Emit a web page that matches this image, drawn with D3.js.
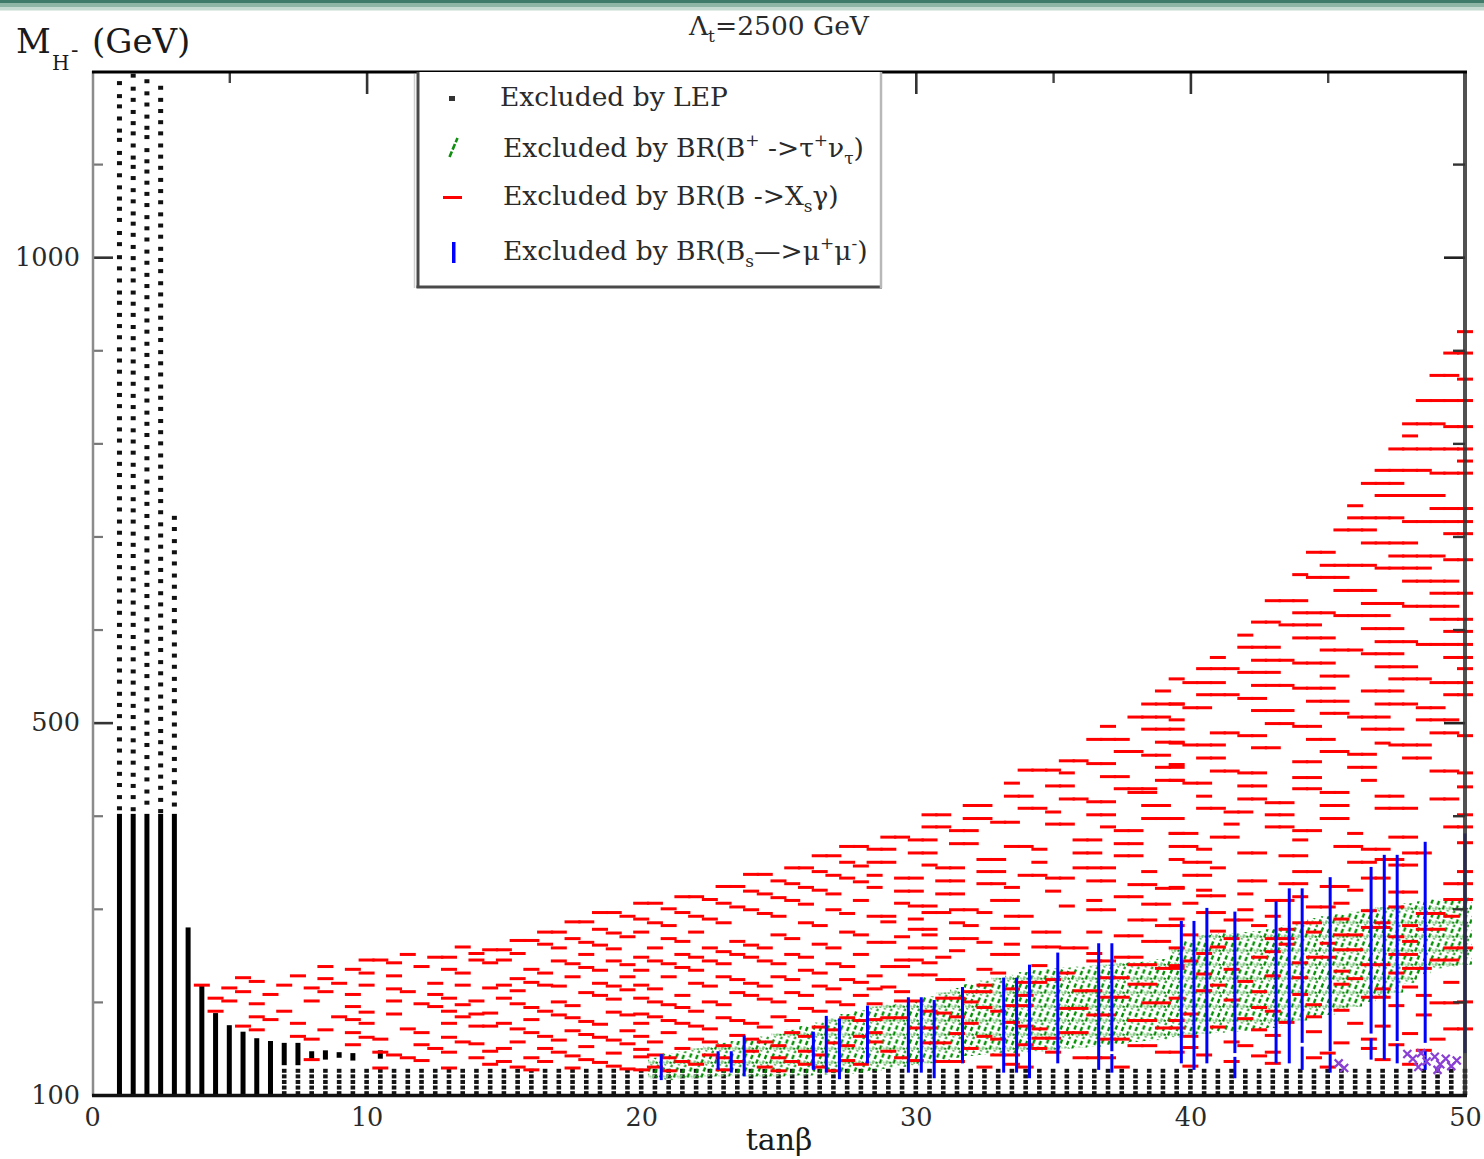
<!DOCTYPE html>
<html>
<head>
<meta charset="utf-8">
<script src="https://cdn.jsdelivr.net/npm/d3@7"></script>
<style>
html,body{margin:0;padding:0;background:#fff;}
svg{display:block;}
</style>
</head>
<body>
<svg id="chart" width="1484" height="1159"></svg>
<script>
// ---------- axes ----------
const tanBetaTicks = [0, 10, 20, 30, 40, 50];
const tanBetaMinor = [5, 15, 25, 35, 45];
const massTicks = [100, 500, 1000];
const massMinor = [200, 300, 400, 600, 700, 800, 900, 1100];

// tan(beta) scan columns
const scanColumns = [1,1.5,2,2.5,3,3.5,4,4.5,5,5.5,6,6.5,7,7.5,8,8.5,9,9.5,10,10.5,11,11.5,12,12.5,13,13.5,14,14.5,15,15.5,16,16.5,17,17.5,18,18.5,19,19.5,20,20.5,21,21.5,22,22.5,23,23.5,24,24.5,25,25.5,26,26.5,27,27.5,28,28.5,29,29.5,30,30.5,31,31.5,32,32.5,33,33.5,34,34.5,35,35.5,36,36.5,37,37.5,38,38.5,39,39.5,40,40.5,41,41.5,42,42.5,43,43.5,44,44.5,45,45.5,46,46.5,47,47.5,48,48.5,49,49.5,50];

// ---------- excluded by LEP ----------
// dense stretches: [tanBeta, M low, M high]
const lepBars = [[1,100,402],[1.5,100,402],[2,100,402],[2.5,100,402],[3,100,402],[3.5,100,280],[4,100,218],[4.5,100,188],[5,100,175],[5.5,100,168],[6,100,161],[6.5,100,158],[7,132,156],[7.5,132,156],[8,139,147],[8.5,138,148],[9,140,146],[9.5,137,145],[10.5,139,148]];
// separate points above the dense stretches
const lepDots1 = [1187,1173,1162,1149,1136,1126,1112,1101,1088,1075,1063,1052,1040,1026,1014,1000,988,975,962,951,938,926,914,901,889,877,864,852,840,827,815,803,790,778,766,753,741,729,716,704,692,679,667,655,642,630,618,605,593,581,568,556,544,531,519,507,494,482,470,457,445,433,420,408];
const lepDots15 = [1195,1181,1169,1156,1144,1133,1120,1107,1097,1085,1072,1060,1047,1036,1024,1011,999,987,975,962,950,938,925,913,901,888,876,864,851,839,827,814,802,790,777,765,753,740,728,716,703,691,679,666,654,642,629,617,605,592,580,568,555,543,531,518,506,494,481,469,457,444,432,420,407];
const lepDots2 = [1189,1176,1164,1151,1139,1129,1115,1103,1092,1080,1068,1056,1043,1031,1019,1006,994,981,969,957,944,932,920,907,895,883,870,858,846,833,821,809,796,784,772,759,747,735,722,710,698,685,673,661,648,636,624,611,599,587,574,562,550,537,525,513,500,488,476,463,451,439,426,414];
const lepDots25 = [1182,1169,1157,1145,1133,1120,1108,1096,1083,1071,1059,1046,1034,1022,1009,997,985,972,960,948,935,923,911,898,886,874,861,849,837,824,812,800,787,775,763,750,738,726,713,701,689,676,664,652,639,627,615,602,590,578,565,553,541,528,516,504,491,479,467,454,442,430,417,405];
const lepDots3 = [720,708,695,683,671,658,646,634,621,609,597,584,572,560,547,535,523,510,498,486,473,461,449,436,424,412];
const lepDotColumns = [[1, lepDots1], [1.5, lepDots15], [2, lepDots2], [2.5, lepDots25], [3, lepDots3]];
// low-mass points present in every column from tanBeta = 7
const lepBandLevels = [102, 108, 114, 120, 126];

// ---------- excluded by BR(B -> Xs gamma) ----------
// per column: [tanBeta, [M ...]]
const redColumns = [
 [4,[218]],[4.5,[204,190]],[5,[215,201]],[5.5,[226,211,174]],[6,[222,198,184,170]],[6.5,[208,181]],
 [7,[218,190]],[7.5,[228,177,163]],[8,[215,201,160,138]],[8.5,[238,225,211,170]],[9,[220,184]],
 [9.5,[235,208,195,181,167,154]],[10,[245,231,218,189,177,162]],[10.5,[245,160,146,129]],
 [11,[242,228,214,201,187,143]],[11.5,[251,211,171,140]],[12,[238,198,167,154,137]],
 [12.5,[248,220,208,195,150]],[13,[248,235,204,190,177,162,146,129]],[13.5,[259,231,218,197,184,157]],
 [14,[252,245,201,187,174,155,140]],
 [14.5,[256,242,215,188,174,147,133]],[15,[256,245,218,204,177,150,136]],
 [15.5,[266,252,225,212,198,171,157,130]],[16,[266,235,221,194,181,167,140,127]],
 [16.5,[275,262,231,218,190,163,150,136]],[17,[275,258,244,217,200,186,159,146]],
 [17.5,[286,268,241,227,196,183,169,142,129]],[18,[286,264,251,237,210,179,165,152,138]],
 [18.5,[296,278,261,234,220,207,176,162,135]],[19,[296,274,257,244,217,203,189,159,145,131]],
 [19.5,[292,270,240,227,213,186,169,155,128]],[20,[306,289,275,248,234,218,204,187,177,163,149,141,127]],
 [20.5,[306,285,258,244,214,200,184,157,143,130]],[21,[300,282,268,241,227,197,180,167,140,126]],
 [21.5,[313,296,265,251,237,207,194,177,150,136]],[22,[313,292,275,248,234,220,190,174,160,133]],
 [22.5,[310,289,258,244,217,200,171,157,143]],[23,[324,306,285,254,241,227,197,183,153,140,127]],
 [23.5,[324,302,265,251,224,210,180,164,136]],[24,[337,319,299,261,248,220,207,177,160,147]],
 [24.5,[337,316,295,258,244,217,203,173,157,130]],[25,[330,312,292,272,241,227,200,184,153,140,126]],
 [25.5,[344,327,309,268,251,224,210,180,167,136]],[26,[344,323,305,285,248,234,207,193,163,147,133]],
 [26.5,[357,340,320,282,262,231,217,190,173,143,130]],[27,[357,336,316,299,258,241,214,200,170,156,126]],
 [27.5,[367,350,333,295,275,238,224,197,183,153,137]],[28,[367,346,329,309,272,251,221,207,180,163,133]]
];
// horizontal runs of equal mass over neighbouring columns: [M, first tanBeta, last tanBeta]
const redRuns = [
 [547,39.5],[534,39],[520,38.5,39.5],[506,38,39],[496,37],[493,38.5,39.5],[482,36.5,37.5],[479,39,39.5],
 [469,37.5,38],[465,38.5,39],[459,35.5,36],[456,36.5,37],[452,39,39.5],[449,34,35],[446,35.5],[442,37,37.5],
 [438,39,39.5],[435,33.5],[432,35,35.5],[429,37.5,38.5],
 [425,38,38.5],[421,33.5,34],[418,35.5,36],[415,36.5,37],[411,32,32.5],[411,38.5,39],[408,34,34.5],[404,35],
 [401,30.5,31],[401,36.5,37],[397,32,32.5],[397,38.5,39],[393,33,33.5],[391,35,35.5],[388,30.5,31],[388,37],
 [384,31.5,32],[384,37.5,38],[381,39.5],[377,29,29.5],[374,30,30.5],[374,36,36.5],[370,31.5,32],[370,37.5,38],
 [367,33.5,34],[364,28.5,29],[364,34.5],[360,30,30.5],[360,36,36.5],[357,37.5,38],[353,32.5,33],[350,28.5,29],
 [350,34.5],[347,30.5],[344,31,31.5],[344,36,37],[340,32.5,33],[340,38.5],[336,28.5],[336,34,34.5],[333,29.5,30],
 [333,35,35.5],[330,31,31.5],[330,36.5,37],[327,32.5,33],[326,38,38.5],[323,28.5],[323,33.5],[322,39,39.5],
 [319,29.5,30],[319,35],[316,31,31.5],[313,37.5,38],[309,33,33.5],[309,36.5],[306,29.5],[305,38.5,39],
 [303,30,30.5],[303,35.5],[299,31.5,32],[299,36.5,37],[296,32.5],[296,30.5,31],[292,28.5,29],[292,33.5,34],
 [289,30],[288,38,38.5],[286,29],[285,31.5],[282,32],[282,39,39.5],[279,33,33.5],[278,30,30.5],[275,34.5,35],
 [275,36.5],[272,30.5],[271,37.5,38],[270,29.5],[268,31.5,32],[265,38.5,39],[264,28.5,29],[264,32.5],[262,33.5],
 [259,34.5,35],[258,35.5,36],[258,30,30.5],[255,31.5],[252,36.5],[251,33,33.5],[248,37.5,38],[248,31],
 [245,29.5,30],[244,36.5,37],[242,30.5],[240,38,38.5],[239,34.5],[238,29,29.5],[236,39,39.5],[235,32.5],
 [231,33],[231,35.5],[229,30,30.5],[228,28.5],[226,37,37.5],[224,31,31.5],[224,35],[221,34,34.5],[219,38,38.5],
 [218,32.5],[216,29],[214,28.5],[214,33.5],[212,36,36.5],[211,29.5],[211,32,32.5],[207,34],[205,37,37.5],
 [204,31,31.5],[201,29.5,30],[200,32],[199,38.5,39],[198,28.5],[196,33.5,34],[194,32.5],[193,35.5,36],[190,33],
 [190,30.5],[188,31],[186,36.5,37],[184,31.5],[183,29,29.5],[181,28.5],[180,38,38.5],[178,33.5],[177,32],
 [174,34],[172,30,30.5],[172,39,39.5],[171,34.5],[167,28.5],[167,35.5,36],[166,31.5],[163,32.5],[161,34.5,35],
 [160,33],[160,37,37.5],[157,28.5],[156,30.5,31],[154,34],[153,38,38.5],[150,34.5],[150,32],[147,29],[146,35],
 [146,39],[143,33,33.5],[140,29.5],[140,36,37],[137,30],[136,31,31.5],[133,33.5],[130,34],[130,37.5],[130,32.5],
 [920,50],[897,49.5,50],[873,49,49.5],[869,50],[846,48.5,50],[821,48,49],[818,49.5,50],[808,48],[794,47.5,50],
 [781,50],[771,47,48.5],[768,49,50],[757,46.5,47.5],[744,47,49],[733,46],[730,49,50],[720,46,47.5],[716,48,50],
 [707,45.5,46.5],[703,49.5,50],[693,46.5,48],[683,44.5,45],[679,47.5,49],[675,49.5,50],[669,45,46.5],[666,47,48.5],
 [659,44],[656,44.5,45.5],[652,48,49.5],[642,45.5,46.5],[639,49,50],[631,43,44],[628,46.5,47.5],[625,48,49.5],
 [618,44,45],[615,45.5,47],[611,49,50],[608,42.5,43],[605,43.5,44.5],[601,46.5,47.5],[598,49.5,50],[594,42],
 [591,44,45],[587,47,48],[584,48.5,50],[581,42,43],[578,45,46],[574,46.5,47.5],[570,41],[570,49.5,50],
 [567,42.5,43.5],[564,44,45],[560,47,48],[558,40.5,41.5],[558,50],[554,42,43],[550,45,45.5],[547,47.5,48.5],
 [543,40,41],[543,49,50],[540,42.5,43.5],[537,44,45],[534,46.5,47.5],[530,40.5,41.5],[530,49.5,50],[526,42,42.5],
 [523,44.5,45.5],[520,39.5],[520,47,48],[516,40,40.5],[516,48.5,49],[513,42.5,43.5],[510,45,45.5],[506,46,47],
 [503,39.5],[503,48.5,49.5],[499,43,43.5],[496,44,44.5],[493,46.5,47.5],[489,41,41.5],[489,49,49.5],[486,42,42.5],
 [486,50],[482,44.5,45],[478,39.5],[478,47],[476,40,41],[476,47.5,48.5],[473,42.5,43],[469,45,45.5],[466,46,46.5],
 [462,40.5,41],[462,48,48.5],[458,44,44.5],[455,39.5],[452,46,46.5],[448,41,41.5],[448,49,49.5],[446,42,42.5],
 [446,50],[441,44,44.5],[438,39.5],[438,46.5],[435,40,40.5],[432,42,42.5],[431,50],[429,44,44.5],[425,45,45.5],
 [421,40.5],[421,47,47.5],[418,42,42.5],[418,49,49.5],[414,43,43.5],[411,45,45.5],[408,40.5,41],[408,47,48],
 [404,41.5,42],[401,43,43.5],[401,50],[397,39.5],[397,45,45.5],[391,41.5],[388,43,43.5],[388,49.5,50],[384,44,44.5],
 [381,39.5,40],[381,46],[377,41,41.5],[377,47.5,48],[374,44],[371,50],[367,39.5,40],[367,45.5,46],[364,40.5],
 [364,46.5,47],[360,42,42.5],[360,48,48.5],[357,43.5,44],[353,39.5],[353,47,47.5],[350,40,40.5],[350,46,46.5],
 [347,47.5,48],[344,41],[340,44,44.5],[340,50],[336,40,40.5],[333,46.5,47],[330,42,42.5],[327,43.5,44],[327,49.5,50],
 [324,45,45.5],[323,39.5],[320,40.5],[320,46],[318,47.5,48],[316,42],[314,40.5,41],[313,44],[310,49.5,50],
 [309,43,43.5],[306,40],[306,45.5],[302,44.5,45],[302,47.5],[298,46.5],[296,40.5,41],[299,42],[295,48.5,49],
 [292,49.5],[292,43],[289,39.5],[289,45.5],[288,41.5,42],[285,47],[285,44,44.5],[282,42.5],[282,48],[280,46.5,47],
 [278,43.5],[278,48.5,49],[276,41],[275,44.5],[272,40],[272,45.5,46],[270,47.5],[268,41.5],[268,43,43.5],[265,48],
 [263,45],[262,43.5],[259,41],[258,39.5],[258,49.5,50],[256,45.5,46],[254,43],[252,40.5],[251,47.5,48],[248,42.5],
 [248,44.5,45],[245,49,49.5],[244,40],[242,44],[240,46.5,47],[239,39.5],[236,48,48.5],[235,41.5],[233,45.5],
 [231,47.5],[230,40.5],[228,43],[226,44],[225,46],[222,42],[221,49.5],[219,45.5],[218,41],[216,48],[214,47],
 [212,40.5],[211,42.5],[208,44],[207,48.5],[205,46.5,47],[204,39.5],[202,41.5],[200,50],[199,49,49.5],[197,44.5],
 [196,47.5],[194,42.5],[191,45.5],[190,43],[187,40],[186,48.5],[184,44.5],[182,42],[180,39.5],[178,43.5],[177,46],
 [174,47],[173,41],[171,49.5,50],[170,42.5],[168,44.5],[166,48],[164,43],[163,40],[160,49],[160,46.5],[157,41.5],
 [156,45.5],[154,47.5],[153,42],[151,40],[150,46.5],[148,48.5],[146,39.5],[146,43],[145,45],[143,40.5],[142,42.5],
 [140,44.5],[138,47],[136,41.5],[134,43],[133,48],[131,40],[130,45]
];

// ---------- excluded by BR(B+ -> tau+ nu) ----------
// occupied mass interval per column: [tanBeta, M low, M high]
const greenBands = [
 [20.5,118,140],[21,116,145],[21.5,118,147],[22,118,150],[22.5,120,152],[23,120,156],[23.5,121,158],[24,120,160],
 [24.5,120,163],[25,120,166],[25.5,121,170],[26,121,174],[26.5,122,178],[27,122,183],[27.5,123,187],[28,124,191],
 [28.5,126,195],[29,128,197],[29.5,130,198],[30,132,202],[30.5,134,206],[31,137,210],[31.5,140,215],[32,142,219],
 [32.5,143,223],[33,144,226],[33.5,145,229],[34,146,232],[34.5,147,234],[35,148,236],[35.5,150,237],[36,151,238],
 [36.5,152,239],[37,154,240],[37.5,155,242],[38,157,243],[38.5,158,244],[39,159,246],[39.5,162,258],[40,165,266],
 [40.5,166,272],[41,167,274],[41.5,168,274],[42,169,275],[42.5,170,276],[43,172,278],[43.5,175,282],[44,180,286],
 [44.5,184,290],[45,186,292],[45.5,190,294],[46,195,297],[46.5,200,300],[47,204,302],[47.5,210,304],[48,220,306],
 [48.5,230,308],[49,236,310],[49.5,238,311],[50,240,312]
];

// ---------- excluded by BR(Bs -> mu+ mu-) ----------
// continuous stretches: [tanBeta, M low, M high]
const blueSegments = [
 [20.73,116,144],[22.8,127,147],[23.28,124,147],[23.75,120,164],[26.27,127,168],[26.74,124,185],[27.22,117,182],
 [28.24,134,196],[29.73,124,205],[30.2,124,205],[30.67,118,202],[31.7,134,216],[33.2,124,226],[33.67,124,226],
 [34.14,118,240],[35.17,134,253],[36.66,127,263],[37.14,147,263],[37.14,124,144],[39.67,134,287],[40.13,127,287],
 [40.6,134,301],[41.62,145,297],[41.62,118,141],[43.12,134,308],[43.6,134,322],[44.07,156,322],[44.07,127,152],
 [45.09,147,334],[45.09,124,144],[46.58,166,345],[46.58,138,161],[47.06,138,358],[47.53,158,358],[47.53,134,155],
 [48.55,156,372],[48.55,127,147],[50,145,381]
];

// ---------- points excluded by several constraints at low mass ----------
const crossPoints = [[45.4,134],[45.6,129],[47.9,144],[48.1,139],[48.4,145],[48.6,136],[48.9,141],[49.1,133],[49.3,139],[49.5,131],[49.7,137],[48.3,130],[49.0,127]];

// ---------- drawing ----------
const svg = d3.select("#chart");
const FONT = "'DejaVu Serif', 'Liberation Serif', serif";
const x = d3.scaleLinear().domain([0, 50]).range([92, 1465]);
const y = d3.scaleLinear().domain([100, 1200]).range([1095, 71]);
const colStep = x(0.5) - x(0);

svg.append("rect").attr("width", 1484).attr("height", 1159).attr("fill", "#fff");
// slide header strip
svg.append("rect").attr("x", 0).attr("y", 0).attr("width", 1484).attr("height", 3).attr("fill", "#3f7b68");
svg.append("rect").attr("x", 0).attr("y", 3).attr("width", 1484).attr("height", 4).attr("fill", "#8fb5a7");
svg.append("rect").attr("x", 0).attr("y", 7).attr("width", 1484).attr("height", 3.5).attr("fill", "#c7dbd2");

// slanted-tick texture used for the B -> tau nu region
const defs = svg.append("defs");
const hatch = defs.append("pattern").attr("id", "tauHatch")
  .attr("patternUnits", "userSpaceOnUse").attr("width", colStep).attr("height", 14);
[["M1,13.5L2.6,9.5", "#008800"], ["M3.4,7.5L5,3.5", "#009000"], ["M5.8,1.5L6.4,0", "#66b866"],
 ["M7.5,13.8L8.7,10.5", "#7cc67c"], ["M9.6,9L11.2,5", "#008a00"], ["M12,3.2L13,0.6", "#2e9e2e"],
 ["M4.6,13.5L5.4,11.5", "#a9dba9"], ["M11,13.6L11.8,11.8", "#0a8a0a"]]
  .forEach(([d, c]) => hatch.append("path").attr("d", d).attr("stroke", c)
    .attr("stroke-width", 2.3).attr("fill", "none"));

const plot = svg.append("g");

// LEP
plot.append("g").selectAll("rect").data(lepBars).join("rect")
  .attr("x", d => x(d[0]) - 2.5).attr("y", d => y(d[2]))
  .attr("width", 5).attr("height", d => y(d[1]) - y(d[2])).attr("fill", "#000");
const lepPts = lepDotColumns.flatMap(([t, ms]) => ms.map(m => [t, m]));
plot.append("g").selectAll("rect").data(lepPts).join("rect")
  .attr("x", d => x(d[0]) - 2.5).attr("y", d => y(d[1]) - 2)
  .attr("width", 5).attr("height", 4).attr("fill", "#111");
const bandPts = scanColumns.filter(t => t >= 7).flatMap(t => lepBandLevels.map(m => [t, m]));
plot.append("g").selectAll("rect").data(bandPts).join("rect")
  .attr("x", d => x(d[0]) - 2.3).attr("y", d => y(d[1]) - 2)
  .attr("width", 4.6).attr("height", 4).attr("fill", "#141414");

// B -> tau nu
plot.append("g").selectAll("rect").data(greenBands).join("rect")
  .attr("x", d => x(d[0]) - colStep / 2).attr("y", d => y(d[2]))
  .attr("width", colStep).attr("height", d => y(d[1]) - y(d[2]))
  .attr("fill", "url(#tauHatch)");

// B -> Xs gamma
const redPts = redColumns.flatMap(([t, ms]) => ms.map(m => [t, m]))
  .concat(redRuns.flatMap(([m, a, b]) => {
    const last = (b === undefined) ? a : b;
    return scanColumns.filter(t => t >= a - 1e-6 && t <= last + 1e-6).map(t => [t, m]);
  }));
plot.append("g").selectAll("rect").data(redPts).join("rect")
  .attr("x", d => x(d[0]) - 8).attr("y", d => y(d[1]) - 1.5)
  .attr("width", 16).attr("height", 3).attr("fill", "#ff0000");

// Bs -> mu mu
plot.append("g").selectAll("line").data(blueSegments).join("line")
  .attr("x1", d => x(d[0])).attr("x2", d => x(d[0]))
  .attr("y1", d => y(d[2])).attr("y2", d => y(d[1]))
  .attr("stroke", "#0000ff").attr("stroke-width", 3);

// crosses
plot.append("g").selectAll("path").data(crossPoints).join("path")
  .attr("d", d => { const cx = x(d[0]), cy = y(d[1]);
    return `M${cx-4},${cy-4}L${cx+4},${cy+4}M${cx-4},${cy+4}L${cx+4},${cy-4}`; })
  .attr("stroke", "#8a3fd4").attr("stroke-width", 2.2).attr("fill", "none");

// ---------- frame and ticks ----------
function styleTicks(g, color, width) {
  g.select(".domain").remove();
  g.selectAll(".tick line").attr("stroke", color).attr("stroke-width", width);
  g.selectAll(".tick text").attr("font-family", FONT).attr("font-size", 25.5).attr("fill", "#2a2a2a");
}
const fmt = d3.format("d");
svg.append("g").attr("transform", "translate(92,0)")
  .call(d3.axisLeft(y).tickValues(massMinor).tickSize(-11).tickFormat(""))
  .call(g => styleTicks(g, "#777", 2.2));
svg.append("g").attr("transform", "translate(92,0)")
  .call(d3.axisLeft(y).tickValues(massTicks).tickSize(-21).tickPadding(12).tickFormat(fmt))
  .call(g => styleTicks(g, "#333", 2.6));
svg.append("g").attr("transform", "translate(1465,0)")
  .call(d3.axisRight(y).tickValues(massMinor).tickSize(-12).tickFormat(""))
  .call(g => styleTicks(g, "#333", 2.4));
svg.append("g").attr("transform", "translate(1465,0)")
  .call(d3.axisRight(y).tickValues(massTicks.filter(v => v > 100)).tickSize(-21).tickFormat(""))
  .call(g => styleTicks(g, "#222", 2.6));
svg.append("g").attr("transform", "translate(0,72)")
  .call(d3.axisTop(x).tickValues(tanBetaMinor).tickSize(-11).tickFormat(""))
  .call(g => styleTicks(g, "#444", 2.4));
svg.append("g").attr("transform", "translate(0,72)")
  .call(d3.axisTop(x).tickValues(tanBetaTicks.filter(v => v > 0 && v < 50)).tickSize(-22).tickFormat(""))
  .call(g => styleTicks(g, "#333", 2.6));
svg.append("g").attr("transform", "translate(0,1095)")
  .call(d3.axisBottom(x).tickValues(tanBetaTicks).tickSize(0).tickPadding(13).tickFormat(fmt))
  .call(g => styleTicks(g, "#222", 2.6));

svg.append("line").attr("x1", 93).attr("x2", 93).attr("y1", 71).attr("y2", 1096)
  .attr("stroke", "#8c8c8c").attr("stroke-width", 2.5);
svg.append("line").attr("x1", 1465).attr("x2", 1465).attr("y1", 71).attr("y2", 1096)
  .attr("stroke", "#333").attr("stroke-opacity", 0.85).attr("stroke-width", 4);
svg.append("line").attr("x1", 92).attr("x2", 1467).attr("y1", 72).attr("y2", 72)
  .attr("stroke", "#000").attr("stroke-width", 3);
svg.append("line").attr("x1", 92).attr("x2", 1467).attr("y1", 1095.5).attr("y2", 1095.5)
  .attr("stroke", "#111").attr("stroke-width", 3.5);

// ---------- titles ----------
const title = svg.append("text").attr("x", 779).attr("y", 35).attr("text-anchor", "middle")
  .attr("font-family", FONT).attr("font-size", 26.5).attr("fill", "#2a2a2a");
title.append("tspan").text("Λ");
title.append("tspan").attr("dy", 7).attr("font-size", 17).text("t");
title.append("tspan").attr("dy", -7).text("=2500 GeV");

svg.append("text").attr("x", 16).attr("y", 53).attr("font-family", FONT)
  .attr("font-size", 34).attr("fill", "#1a1a1a").text("M");
svg.append("text").attr("x", 52).attr("y", 70).attr("font-family", FONT)
  .attr("font-size", 20).attr("fill", "#1a1a1a").text("H");
svg.append("text").attr("x", 71).attr("y", 57).attr("font-family", FONT)
  .attr("font-size", 22).attr("fill", "#1a1a1a").text("-");
svg.append("text").attr("x", 92).attr("y", 53).attr("font-family", FONT)
  .attr("font-size", 34).attr("fill", "#1a1a1a").text("(GeV)");

svg.append("text").attr("x", 779).attr("y", 1150).attr("text-anchor", "middle")
  .attr("font-family", FONT).attr("font-size", 30).attr("fill", "#1a1a1a").text("tanβ");

// ---------- legend ----------
const lg = svg.append("g");
lg.append("rect").attr("x", 418).attr("y", 72).attr("width", 463).attr("height", 215).attr("fill", "#fff");
lg.append("line").attr("x1", 418).attr("x2", 418).attr("y1", 72).attr("y2", 288)
  .attr("stroke", "#4a4a4a").attr("stroke-width", 3);
lg.append("line").attr("x1", 416.5).attr("x2", 882).attr("y1", 287).attr("y2", 287)
  .attr("stroke", "#4a4a4a").attr("stroke-width", 3);
lg.append("line").attr("x1", 881).attr("x2", 881).attr("y1", 72).attr("y2", 288)
  .attr("stroke", "#b8b8b8").attr("stroke-width", 2.5);
lg.append("line").attr("x1", 414.5).attr("x2", 414.5).attr("y1", 74).attr("y2", 288)
  .attr("stroke", "#cfcfcf").attr("stroke-width", 1.5);

lg.append("rect").attr("x", 449).attr("y", 96).attr("width", 6).attr("height", 5).attr("fill", "#333");
lg.append("path").attr("d", "M449.5,157L457.5,138").attr("stroke", "#0f8f0f")
  .attr("stroke-width", 2.6).attr("stroke-dasharray", "6,2").attr("fill", "none");
lg.append("rect").attr("x", 443).attr("y", 196).attr("width", 19).attr("height", 3).attr("fill", "#ff0000");
lg.append("rect").attr("x", 452).attr("y", 242).attr("width", 3.5).attr("height", 21).attr("fill", "#0000ff");

function legendText(xp, yp) {
  return lg.append("text").attr("x", xp).attr("y", yp).attr("font-family", FONT)
    .attr("font-size", 26.5).attr("fill", "#2a2a2a");
}
legendText(500, 106).text("Excluded by LEP");
const t2 = legendText(503, 157);
t2.append("tspan").text("Excluded by BR(B");
t2.append("tspan").attr("dy", -11).attr("font-size", 17).text("+");
t2.append("tspan").attr("dy", 11).text(" ->τ");
t2.append("tspan").attr("dy", -11).attr("font-size", 17).text("+");
t2.append("tspan").attr("dy", 11).text("ν");
t2.append("tspan").attr("dy", 7).attr("font-size", 17).text("τ");
t2.append("tspan").attr("dy", -7).text(")");
const t3 = legendText(503, 205);
t3.append("tspan").text("Excluded by BR(B ->X");
t3.append("tspan").attr("dy", 7).attr("font-size", 17).text("s");
t3.append("tspan").attr("dy", -7).text("γ)");
const t4 = legendText(503, 260);
t4.append("tspan").text("Excluded by BR(B");
t4.append("tspan").attr("dy", 7).attr("font-size", 17).text("s");
t4.append("tspan").attr("dy", -7).text("—>μ");
t4.append("tspan").attr("dy", -11).attr("font-size", 17).text("+");
t4.append("tspan").attr("dy", 11).text("μ");
t4.append("tspan").attr("dy", -11).attr("font-size", 17).text("-");
t4.append("tspan").attr("dy", 11).text(")");
</script>
</body>
</html>
